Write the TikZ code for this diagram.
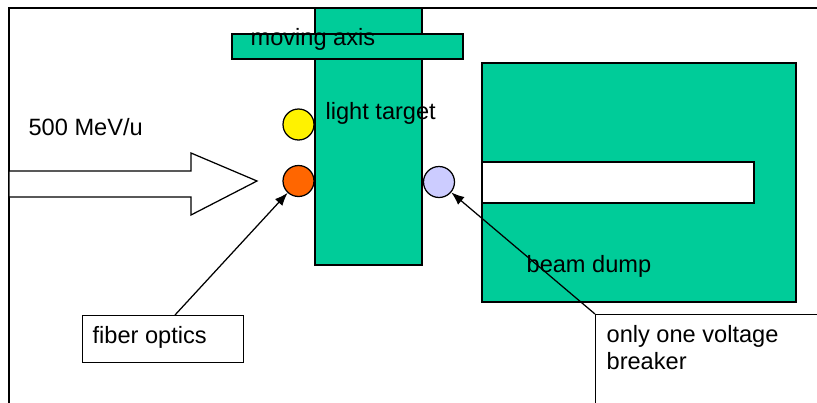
\documentclass[tikz,border=0pt]{standalone}
\usepackage{fontspec}
\setmainfont{Liberation Sans}
\usetikzlibrary{arrows.meta}
\definecolor{slabgreen}{RGB}{0,204,153}
\definecolor{dotorange}{RGB}{255,102,0}
\definecolor{dotlilac}{RGB}{204,204,255}

\begin{document}
\begin{tikzpicture}[x = 1pt, y = -1pt, line width = 1.25pt,
		slab/.style = {draw, fill = slabgreen},
		dot/.style = {circle, draw, inner sep = 0pt, minimum size = 31pt},
		lbl/.style = {anchor = base west, inner sep = 0pt, font = \fontsize{23.6pt}{27pt}\selectfont},
		pointer/.style = {-{Latex[length = 13pt, width = 10pt]}}]
		\clip (0, 0) rectangle (817, 402);
		%%%%%%%%%%%%%
		\draw (820, 8) -- (9, 8) -- (9, 405);
		\draw [fill = white] (9, 171) -- (191, 171) -- (191, 153) -- (257, 181)
			-- (191, 215) -- (191, 197) -- (9, 197) -- cycle;
		\draw [slab] (315, 8) rectangle (422, 265);
		\draw [slab] (232, 34) rectangle (463, 59);
		\draw [slab] (482, 63) rectangle (796, 302);
		\draw [fill = white] (482, 162) rectangle (754, 203);
		%%%%%%%%%%%%%
		\node [dot, fill = yellow] (light) at (298.5, 124.5) {};
		\node [dot, fill = dotorange] (fiber) at (298.5, 181) {};
		\node [dot, fill = dotlilac] (breaker) at (439, 182) {};
		%%%%%%%%%%%%%
		\node [lbl] (axis) at (250, 45) {moving axis};
		\node [lbl] (target) at (325, 119) {light target};
		\node [lbl] (energy) at (28, 135) {500 MeV/u};
		\node [lbl] (dump) at (526, 272) {beam dump};
		\node [draw, fill = white, anchor = north west, minimum width = 161pt, minimum height = 47pt] (fiberbox) at (82, 315) {};
		\node [lbl] (fibertext) at (92, 343) {fiber optics};
		\node [draw, fill = white, anchor = north west, minimum width = 240pt, minimum height = 110pt] (breakbox) at (595, 314) {};
		\node [lbl] (breaktext) at (606, 342) {only one voltage};
		\node [lbl] (breaktext2) at (606, 369) {breaker};
		%%%%%%%%%%%%%
		\coordinate (fiberfoot) at (175, 315);
		\draw [pointer] (fiberfoot) to (fiber);
		\draw [pointer] (breakbox.north west) to (breaker);
\end{tikzpicture}
\end{document}
